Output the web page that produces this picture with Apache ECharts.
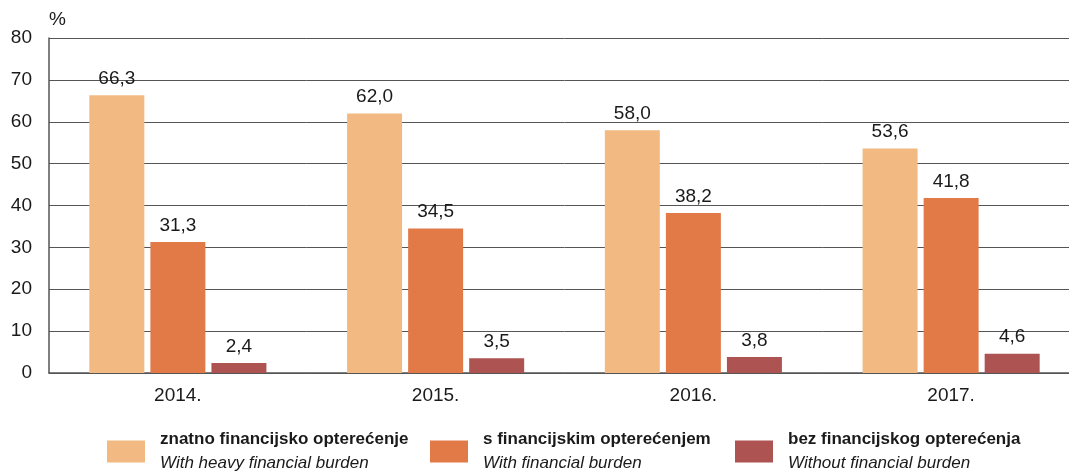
<!DOCTYPE html>
<html>
<head>
<meta charset="utf-8">
<script src="https://cdn.jsdelivr.net/npm/echarts@6/dist/echarts.min.js"></script>
<style>
  html, body { margin: 0; padding: 0; background: #fff; overflow: hidden; }
  #chart { width: 1080px; height: 474px; }
</style>
</head>
<body>
<div id="chart"></div>
<script>
const years = ["2014.", "2015.", "2016.", "2017."];
const heavyBurden = [66.3, 62.0, 58.0, 53.6];
const withBurden = [31.3, 34.5, 38.2, 41.8];
const withoutBurden = [2.4, 3.5, 3.8, 4.6];
const seriesNames = [
  ["znatno financijsko opterećenje", "With heavy financial burden"],
  ["s financijskim opterećenjem", "With financial burden"],
  ["bez financijskog opterećenja", "Without financial burden"]
];
const colors = ["#F2BA82", "#E27A48", "#AD5352"];
const font = "'Liberation Sans', sans-serif";

const chart = echarts.init(document.getElementById("chart"));

function legendFor(i, left) {
  return {
    data: [seriesNames[i][0]],
    left: left,
    top: 426,
    itemWidth: 38,
    itemHeight: 22,
    itemGap: 0,
    icon: "rect",
    selectedMode: false,
    formatter: function (name) {
      return "{a|" + name + "}\n{b|" + seriesNames[i][1] + "}";
    },
    textStyle: {
      padding: [0, 0, 0, 10],
      rich: {
        a: { fontFamily: font, fontSize: 17, fontWeight: "bold", color: "#1a1a1a", lineHeight: 24 },
        b: { fontFamily: font, fontSize: 17, fontStyle: "italic", color: "#1a1a1a", lineHeight: 24 }
      }
    }
  };
}

function barSeries(i, data) {
  return {
    name: seriesNames[i][0],
    type: "bar",
    data: data,
    barWidth: 55,
    barGap: "11%",
    itemStyle: { color: colors[i] },
    label: {
      show: true,
      position: "top",
      distance: 7,
      fontFamily: font,
      fontSize: 19,
      color: "#1a1a1a",
      formatter: function (p) { return p.value.toFixed(1).replace(".", ","); }
    }
  };
}

chart.setOption({
  animation: false,
  color: colors,
  legend: [legendFor(0, 102), legendFor(1, 425), legendFor(2, 730)],
  grid: { left: 49, right: 0, top: 38, bottom: 101 },
  xAxis: {
    type: "category",
    data: years,
    axisTick: { show: false },
    axisLine: { lineStyle: { color: "#555", width: 1.5 } },
    axisLabel: { fontFamily: font, fontSize: 19, color: "#1a1a1a", margin: 13 }
  },
  yAxis: {
    type: "value",
    min: 0,
    max: 80,
    interval: 10,
    name: "%",
    nameLocation: "end",
    nameGap: 9,
    nameTextStyle: { fontFamily: font, fontSize: 19, color: "#1a1a1a", align: "left", padding: [0, 0, 0, 0] },
    axisLine: { show: true, lineStyle: { color: "#555", width: 1.5 } },
    axisTick: { show: false },
    axisLabel: { fontFamily: font, fontSize: 19, color: "#1a1a1a", margin: 17 },
    splitLine: { lineStyle: { color: "#555", width: 1 } }
  },
  series: [
    barSeries(0, heavyBurden),
    barSeries(1, withBurden),
    barSeries(2, withoutBurden)
  ]
});
</script>
</body>
</html>
